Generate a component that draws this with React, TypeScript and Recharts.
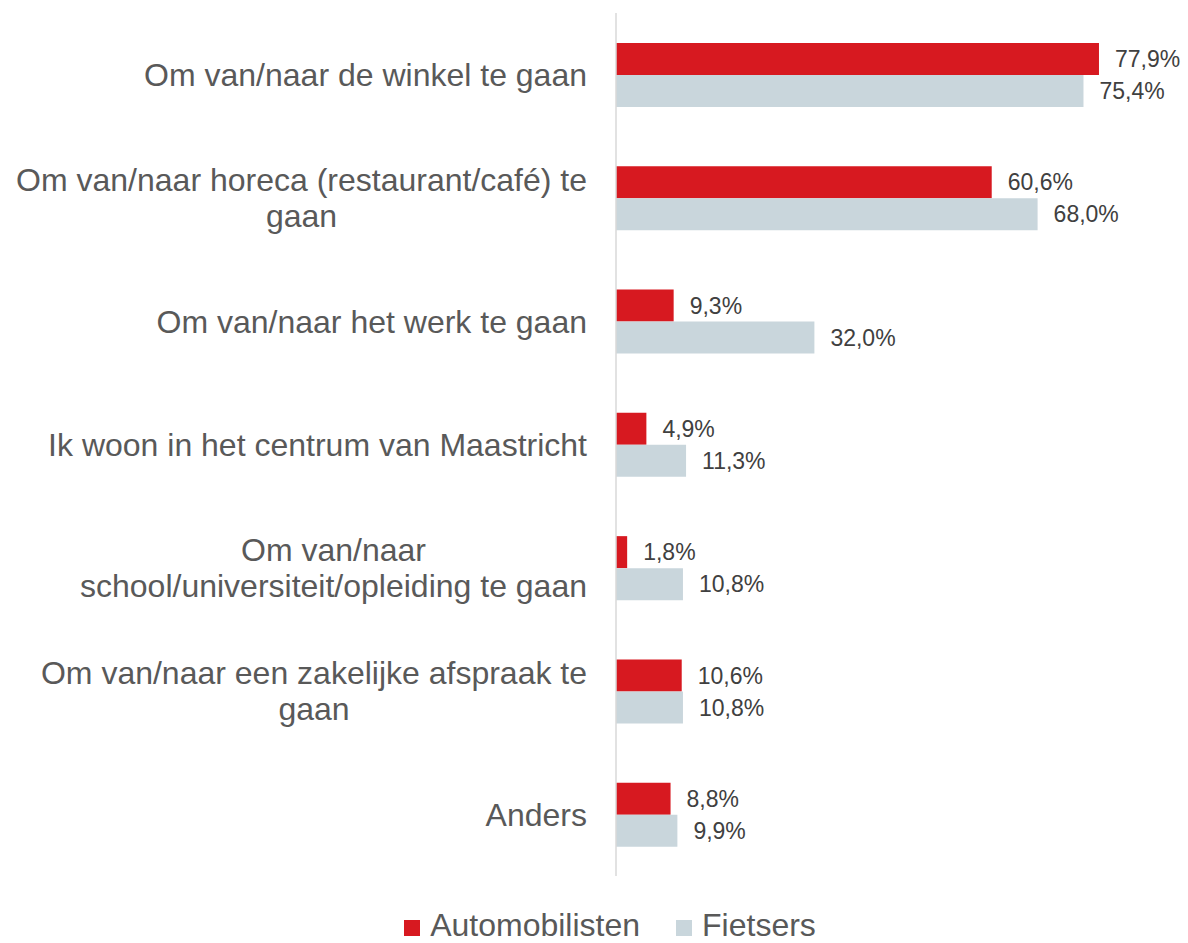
import React from "react";
import { BarChart, Bar, XAxis, YAxis, LabelList, Legend } from "recharts";

const categories: string[] = [
  "Om van/naar de winkel te gaan",
  "Om van/naar horeca (restaurant/café) te\ngaan",
  "Om van/naar het werk te gaan",
  "Ik woon in het centrum van Maastricht",
  "Om van/naar\nschool/universiteit/opleiding te gaan",
  "Om van/naar een zakelijke afspraak te\ngaan",
  "Anders",
];
const automobilisten: number[] = [77.9, 60.6, 9.3, 4.9, 1.8, 10.6, 8.8];
const fietsers: number[] = [75.4, 68.0, 32.0, 11.3, 10.8, 10.8, 9.9];
const seriesNames: string[] = ["Automobilisten", "Fietsers"];
const seriesColors: string[] = ["#D71920", "#C9D6DC"];

const data = categories.map((name, i) => ({
  name,
  auto: automobilisten[i],
  fiets: fietsers[i],
}));

const FONT = "'Liberation Sans', Arial, sans-serif";
const CAT_SIZE = 32;
const LINE_H = 36;

let ctx: CanvasRenderingContext2D | null = null;
function measure(text: string): number {
  if (!ctx) {
    const c = document.createElement("canvas");
    ctx = c.getContext("2d");
  }
  if (!ctx) return text.length * CAT_SIZE * 0.5;
  ctx.font = `${CAT_SIZE}px 'Liberation Sans', Arial, sans-serif`;
  return ctx.measureText(text).width;
}

const CategoryTick = (props: any) => {
  const { x, y, payload } = props;
  const lines: string[] = String(payload.value).split("\n");
  const widths = lines.map(measure);
  const maxW = Math.max(...widths);
  const cx = x - maxW / 2;
  const startY = y - ((lines.length - 1) * LINE_H) / 2;
  return (
    <g>
      {lines.map((ln, i) => (
        <text
          key={i}
          x={cx}
          y={startY + i * LINE_H}
          dy="0.355em"
          textAnchor="middle"
          fontFamily={FONT}
          fontSize={CAT_SIZE}
          fill="#595959"
        >
          {ln}
        </text>
      ))}
    </g>
  );
};

const fmt = (v: any) => `${Number(v).toFixed(1).replace(".", ",")}%`;

const LegendContent = () => (
  <div
    style={{
      display: "flex",
      justifyContent: "center",
      alignItems: "center",
      fontFamily: FONT,
      fontSize: 32,
      color: "#595959",
      lineHeight: "36px",
    }}
  >
    {seriesNames.map((n, i) => (
      <div
        key={n}
        style={{ display: "flex", alignItems: "center", marginLeft: i > 0 ? 36 : 0 }}
      >
        <span
          style={{
            display: "inline-block",
            width: 16,
            height: 16,
            background: seriesColors[i],
            marginRight: 10,
            marginTop: 6,
          }}
        />
        <span>{n}</span>
      </div>
    ))}
  </div>
);

export default function App() {
  return (
    <div style={{ position: "absolute", left: 0, top: 0, width: 1188, height: 943, background: "#fff" }}>
      <BarChart
        width={1188}
        height={943}
        data={data}
        layout="vertical"
        margin={{ top: 13, right: 76, bottom: 31, left: 0 }}
        barGap={0}
        barSize={32}
      >
        <XAxis type="number" domain={[0, 80]} hide />
        <YAxis
          type="category"
          dataKey="name"
          width={616}
          tickLine={false}
          tickSize={0}
          tickMargin={29}
          axisLine={{ stroke: "#D9D9D9", strokeWidth: 1.5 }}
          tick={<CategoryTick />}
          interval={0}
        />
        <Legend
          verticalAlign="bottom"
          content={<LegendContent />}
          wrapperStyle={{ left: 0, width: 1220, bottom: 0 }}
        />
        <Bar dataKey="auto" name={seriesNames[0]} fill={seriesColors[0]} isAnimationActive={false}>
          <LabelList
            dataKey="auto"
            position="right"
            offset={16}
            formatter={fmt}
            fill="#404040"
            fontSize={23}
            fontFamily={FONT}
          />
        </Bar>
        <Bar dataKey="fiets" name={seriesNames[1]} fill={seriesColors[1]} isAnimationActive={false}>
          <LabelList
            dataKey="fiets"
            position="right"
            offset={16}
            formatter={fmt}
            fill="#404040"
            fontSize={23}
            fontFamily={FONT}
          />
        </Bar>
      </BarChart>
    </div>
  );
}
